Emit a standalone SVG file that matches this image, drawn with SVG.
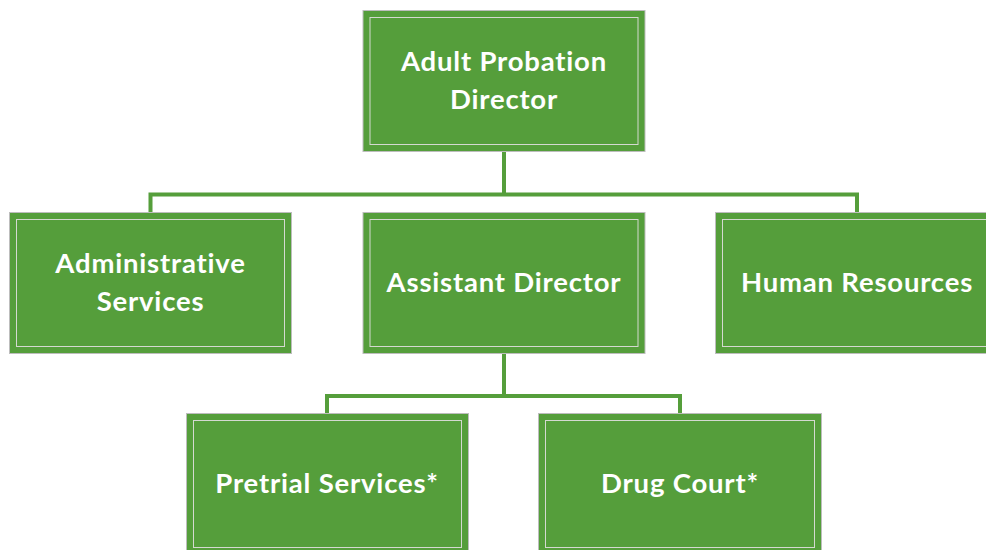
<svg xmlns="http://www.w3.org/2000/svg" width="986" height="550" viewBox="0 0 986 550">
  <style>
    .box { fill: #559E3B; stroke: #BDBDBD; stroke-width: 1; }
    .inner { fill: none; stroke: #D4D9D0; stroke-width: 1; }
    .label { fill: #FFFFFF; font-family: Lato, "Open Sans", "Liberation Sans", sans-serif; font-weight: bold; font-size: 27.5px; letter-spacing: 0.8px; text-anchor: middle; }
    .link { fill: none; stroke: #559E3B; stroke-width: 4; }
  </style>
  <rect width="986" height="550" fill="#FFFFFF"/>

  <!-- reporting lines -->
  <g id="connectors">
    <path class="link" d="M504 151 V194.5"/>
    <path class="link" d="M150.5 212 V194.5 H857 V212"/>
    <path class="link" d="M504 353 V396"/>
    <path class="link" d="M327 413 V396 H680 V413"/>
  </g>

  <g id="director">
    <rect class="box" x="363" y="10.5" width="282" height="141"/>
    <rect class="inner" x="370" y="17.5" width="268" height="127"/>
    <text class="label" x="504" y="71">Adult Probation</text>
    <text class="label" x="504" y="109">Director</text>
  </g>

  <g id="admin-services">
    <rect class="box" x="9.5" y="212.5" width="282" height="141"/>
    <rect class="inner" x="16.5" y="219.5" width="268" height="127"/>
    <text class="label" x="150.5" y="273">Administrative</text>
    <text class="label" x="150.5" y="311">Services</text>
  </g>

  <g id="assistant-director">
    <rect class="box" x="363" y="212.5" width="282" height="141"/>
    <rect class="inner" x="370" y="219.5" width="268" height="127"/>
    <text class="label" x="504" y="292">Assistant Director</text>
  </g>

  <g id="human-resources">
    <rect class="box" x="715.5" y="212.5" width="284" height="141"/>
    <rect class="inner" x="722.5" y="219.5" width="270" height="127"/>
    <text class="label" x="857" y="292">Human Resources</text>
  </g>

  <g id="pretrial-services">
    <rect class="box" x="186.5" y="413.5" width="282" height="141"/>
    <rect class="inner" x="193.5" y="420.5" width="268" height="127"/>
    <text class="label" x="327" y="493">Pretrial Services*</text>
  </g>

  <g id="drug-court">
    <rect class="box" x="538.5" y="413.5" width="283" height="141"/>
    <rect class="inner" x="545.5" y="420.5" width="269" height="127"/>
    <text class="label" x="680" y="493">Drug Court*</text>
  </g>
</svg>
